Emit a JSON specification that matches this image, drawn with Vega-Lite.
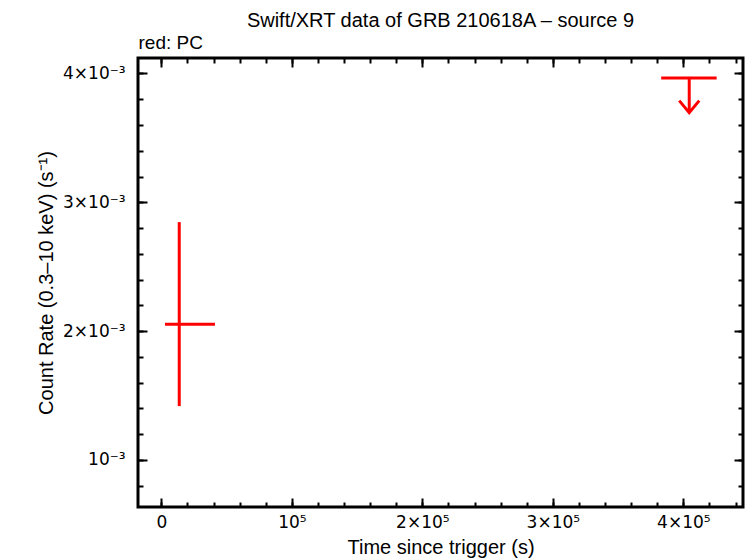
{
  "$schema": "https://vega.github.io/schema/vega-lite/v6.json",
  "width": 605,
  "height": 449,
  "autosize": {"type": "none"},
  "padding": {"left": 138, "top": 58, "right": 3, "bottom": 51},
  "background": "white",
  "config": {
    "font": "Liberation Sans",
    "view": {"stroke": "black", "strokeWidth": 3},
    "axis": {"domain": false, "grid": false, "tickColor": "black", "labelColor": "black", "titleColor": "black", "labelFont": "DejaVu Sans", "titleFont": "Liberation Sans", "titleFontWeight": "normal", "labelFontSize": 17, "titleFontSize": 20}
  },
  "title": {"text": "Swift/XRT data of GRB 210618A – source 9", "fontSize": 20, "fontWeight": "normal", "anchor": "middle", "color": "black", "font": "Liberation Sans", "dy": 2},
  "datasets": {
    "pc": [{"t": 13700, "tlo": 2760, "thi": 41070, "rate": 0.002054, "lo": 0.001418, "hi": 0.002846}],
    "ul": [{"t": 404500, "tlo": 383000, "thi": 425500, "rate": 0.003965, "tip": 0.003696}]
  },
  "layer": [
    {
      "data": {"name": "pc"},
      "mark": {"type": "rule", "color": "#ff0000", "strokeWidth": 3},
      "encoding": {
        "x": {"field": "t", "type": "quantitative", "scale": {"domain": [-17900, 445700], "nice": false, "zero": false},
          "axis": {"orient": "bottom", "values": [0, 100000, 200000, 300000, 400000], "tickSize": -9, "tickWidth": 2, "labelPadding": 16, "labelExpr": "datum.value == 0 ? '0' : (round(datum.value/100000) == 1 ? '10⁵' : round(datum.value/100000) + '×10⁵')", "title": "Time since trigger (s)", "titlePadding": 7}},
        "y": {"field": "lo", "type": "quantitative", "scale": {"domain": [0.000635, 0.00412], "nice": false, "zero": false},
          "axis": {"orient": "left", "values": [0.001, 0.002, 0.003, 0.004], "tickSize": -9, "tickWidth": 2, "labelPadding": 22, "labelExpr": "round(datum.value*1000) == 1 ? '10⁻³' : round(datum.value*1000) + '×10⁻³'", "title": "Count Rate (0.3–10 keV) (s⁻¹)", "titlePadding": 6}},
        "y2": {"field": "hi"}
      }
    },
    {
      "data": {"name": "pc"},
      "mark": {"type": "rule", "color": "#ff0000", "strokeWidth": 3},
      "encoding": {
        "x": {"field": "tlo", "type": "quantitative", "scale": {"domain": [-17900, 445700], "nice": false, "zero": false},
          "axis": {"orient": "top", "values": [0, 100000, 200000, 300000, 400000], "tickSize": -9, "tickWidth": 2, "labels": false, "title": "red: PC", "titleAnchor": "start", "titleAlign": "left", "titleFontSize": 19, "titlePadding": 5}},
        "x2": {"field": "thi"},
        "y": {"field": "rate", "type": "quantitative", "scale": {"domain": [0.000635, 0.00412], "nice": false, "zero": false},
          "axis": {"orient": "right", "values": [0.001, 0.002, 0.003, 0.004], "tickSize": -9, "tickWidth": 2, "labels": false, "title": null}}
      }
    },
    {
      "data": {"name": "ul"},
      "mark": {"type": "rule", "color": "#ff0000", "strokeWidth": 3},
      "encoding": {
        "x": {"field": "tlo", "type": "quantitative", "scale": {"domain": [-17900, 445700], "nice": false, "zero": false},
          "axis": {"orient": "bottom", "values": [0, 20000, 40000, 60000, 80000, 100000, 120000, 140000, 160000, 180000, 200000, 220000, 240000, 260000, 280000, 300000, 320000, 340000, 360000, 380000, 400000, 420000, 440000], "tickSize": -5, "tickWidth": 2, "labels": false, "title": null}},
        "x2": {"field": "thi"},
        "y": {"field": "rate", "type": "quantitative", "scale": {"domain": [0.000635, 0.00412], "nice": false, "zero": false},
          "axis": {"orient": "left", "values": [0.0008, 0.001, 0.0012, 0.0014, 0.0016, 0.0018, 0.002, 0.0022, 0.0024, 0.0026, 0.0028, 0.003, 0.0032, 0.0034, 0.0036, 0.0038, 0.004], "tickSize": -5, "tickWidth": 2, "labels": false, "title": null}}
      }
    },
    {
      "data": {"name": "ul"},
      "mark": {"type": "rule", "color": "#ff0000", "strokeWidth": 3},
      "encoding": {
        "x": {"field": "t", "type": "quantitative", "scale": {"domain": [-17900, 445700], "nice": false, "zero": false},
          "axis": {"orient": "top", "values": [0, 20000, 40000, 60000, 80000, 100000, 120000, 140000, 160000, 180000, 200000, 220000, 240000, 260000, 280000, 300000, 320000, 340000, 360000, 380000, 400000, 420000, 440000], "tickSize": -5, "tickWidth": 2, "labels": false, "title": null}},
        "y": {"field": "rate", "type": "quantitative", "scale": {"domain": [0.000635, 0.00412], "nice": false, "zero": false},
          "axis": {"orient": "right", "values": [0.0008, 0.001, 0.0012, 0.0014, 0.0016, 0.0018, 0.002, 0.0022, 0.0024, 0.0026, 0.0028, 0.003, 0.0032, 0.0034, 0.0036, 0.0038, 0.004], "tickSize": -5, "tickWidth": 2, "labels": false, "title": null}},
        "y2": {"field": "tip"}
      }
    },
    {
      "data": {"name": "ul"},
      "mark": {"type": "point", "shape": "M-1,-1.2L0,0L1,-1.2", "size": 400, "filled": false, "stroke": "#ff0000", "strokeWidth": 3, "opacity": 1},
      "encoding": {
        "x": {"field": "t", "type": "quantitative", "scale": {"domain": [-17900, 445700], "nice": false, "zero": false}, "axis": null},
        "y": {"field": "tip", "type": "quantitative", "scale": {"domain": [0.000635, 0.00412], "nice": false, "zero": false}, "axis": null}
      }
    }
  ],
  "resolve": {"axis": {"x": "independent", "y": "independent"}}
}
